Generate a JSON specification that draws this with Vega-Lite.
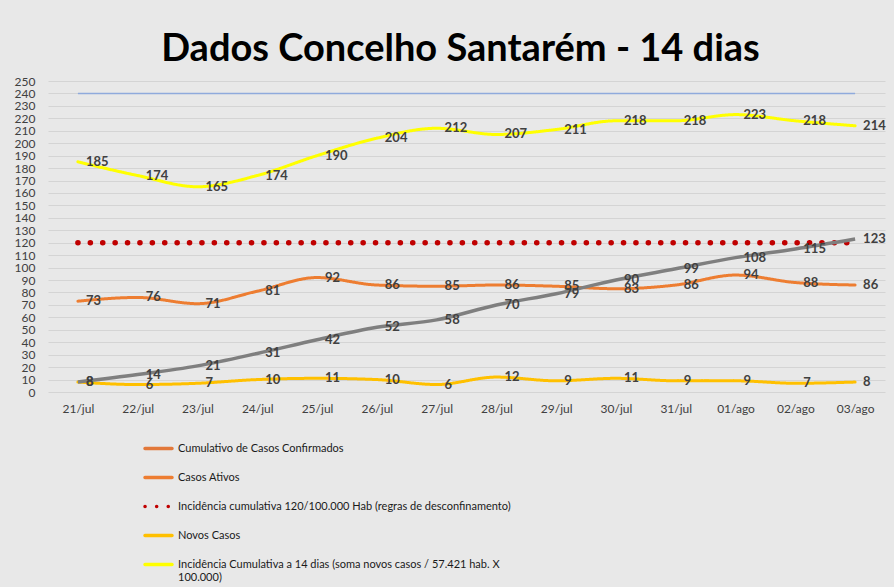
{
  "$schema": "https://vega.github.io/schema/vega-lite/v6.json",
  "width": 837,
  "height": 311,
  "autosize": {"type": "none"},
  "padding": {"left": 48, "top": 81, "right": 9, "bottom": 195},
  "background": "#e8e8e8",
  "config": {
    "font": "Lato",
    "view": {"stroke": null},
    "axis": {"labelFont": "Lato", "labelColor": "#404040"}
  },
  "title": {
    "text": "Dados Concelho Santarém - 14 dias",
    "font": "Lato",
    "fontSize": 38,
    "fontWeight": "bold",
    "color": "#000000",
    "anchor": "middle",
    "dx": -6,
    "dy": 48,
    "baseline": "alphabetic",
    "offset": 24
  },
  "datasets": {
    "series": [
      {"date": "21/jul", "serie": "Cumulativo de Casos Confirmados", "valor": 8},
      {"date": "22/jul", "serie": "Cumulativo de Casos Confirmados", "valor": 14},
      {"date": "23/jul", "serie": "Cumulativo de Casos Confirmados", "valor": 21},
      {"date": "24/jul", "serie": "Cumulativo de Casos Confirmados", "valor": 31},
      {"date": "25/jul", "serie": "Cumulativo de Casos Confirmados", "valor": 42},
      {"date": "26/jul", "serie": "Cumulativo de Casos Confirmados", "valor": 52},
      {"date": "27/jul", "serie": "Cumulativo de Casos Confirmados", "valor": 58},
      {"date": "28/jul", "serie": "Cumulativo de Casos Confirmados", "valor": 70},
      {"date": "29/jul", "serie": "Cumulativo de Casos Confirmados", "valor": 79},
      {"date": "30/jul", "serie": "Cumulativo de Casos Confirmados", "valor": 90},
      {"date": "31/jul", "serie": "Cumulativo de Casos Confirmados", "valor": 99},
      {"date": "01/ago", "serie": "Cumulativo de Casos Confirmados", "valor": 108},
      {"date": "02/ago", "serie": "Cumulativo de Casos Confirmados", "valor": 115},
      {"date": "03/ago", "serie": "Cumulativo de Casos Confirmados", "valor": 123},
      {"date": "21/jul", "serie": "Casos Ativos", "valor": 73},
      {"date": "22/jul", "serie": "Casos Ativos", "valor": 76},
      {"date": "23/jul", "serie": "Casos Ativos", "valor": 71},
      {"date": "24/jul", "serie": "Casos Ativos", "valor": 81},
      {"date": "25/jul", "serie": "Casos Ativos", "valor": 92},
      {"date": "26/jul", "serie": "Casos Ativos", "valor": 86},
      {"date": "27/jul", "serie": "Casos Ativos", "valor": 85},
      {"date": "28/jul", "serie": "Casos Ativos", "valor": 86},
      {"date": "29/jul", "serie": "Casos Ativos", "valor": 85},
      {"date": "30/jul", "serie": "Casos Ativos", "valor": 83},
      {"date": "31/jul", "serie": "Casos Ativos", "valor": 86},
      {"date": "01/ago", "serie": "Casos Ativos", "valor": 94},
      {"date": "02/ago", "serie": "Casos Ativos", "valor": 88},
      {"date": "03/ago", "serie": "Casos Ativos", "valor": 86},
      {"date": "21/jul", "serie": "Incidência cumulativa 120/100.000 Hab (regras de desconfinamento)", "valor": 120},
      {"date": "22/jul", "serie": "Incidência cumulativa 120/100.000 Hab (regras de desconfinamento)", "valor": 120},
      {"date": "23/jul", "serie": "Incidência cumulativa 120/100.000 Hab (regras de desconfinamento)", "valor": 120},
      {"date": "24/jul", "serie": "Incidência cumulativa 120/100.000 Hab (regras de desconfinamento)", "valor": 120},
      {"date": "25/jul", "serie": "Incidência cumulativa 120/100.000 Hab (regras de desconfinamento)", "valor": 120},
      {"date": "26/jul", "serie": "Incidência cumulativa 120/100.000 Hab (regras de desconfinamento)", "valor": 120},
      {"date": "27/jul", "serie": "Incidência cumulativa 120/100.000 Hab (regras de desconfinamento)", "valor": 120},
      {"date": "28/jul", "serie": "Incidência cumulativa 120/100.000 Hab (regras de desconfinamento)", "valor": 120},
      {"date": "29/jul", "serie": "Incidência cumulativa 120/100.000 Hab (regras de desconfinamento)", "valor": 120},
      {"date": "30/jul", "serie": "Incidência cumulativa 120/100.000 Hab (regras de desconfinamento)", "valor": 120},
      {"date": "31/jul", "serie": "Incidência cumulativa 120/100.000 Hab (regras de desconfinamento)", "valor": 120},
      {"date": "01/ago", "serie": "Incidência cumulativa 120/100.000 Hab (regras de desconfinamento)", "valor": 120},
      {"date": "02/ago", "serie": "Incidência cumulativa 120/100.000 Hab (regras de desconfinamento)", "valor": 120},
      {"date": "03/ago", "serie": "Incidência cumulativa 120/100.000 Hab (regras de desconfinamento)", "valor": 120},
      {"date": "21/jul", "serie": "Novos Casos", "valor": 8},
      {"date": "22/jul", "serie": "Novos Casos", "valor": 6},
      {"date": "23/jul", "serie": "Novos Casos", "valor": 7},
      {"date": "24/jul", "serie": "Novos Casos", "valor": 10},
      {"date": "25/jul", "serie": "Novos Casos", "valor": 11},
      {"date": "26/jul", "serie": "Novos Casos", "valor": 10},
      {"date": "27/jul", "serie": "Novos Casos", "valor": 6},
      {"date": "28/jul", "serie": "Novos Casos", "valor": 12},
      {"date": "29/jul", "serie": "Novos Casos", "valor": 9},
      {"date": "30/jul", "serie": "Novos Casos", "valor": 11},
      {"date": "31/jul", "serie": "Novos Casos", "valor": 9},
      {"date": "01/ago", "serie": "Novos Casos", "valor": 9},
      {"date": "02/ago", "serie": "Novos Casos", "valor": 7},
      {"date": "03/ago", "serie": "Novos Casos", "valor": 8},
      {"date": "21/jul", "serie": "Incidência Cumulativa a 14 dias (soma novos casos / 57.421 hab. X 100.000)", "valor": 185},
      {"date": "22/jul", "serie": "Incidência Cumulativa a 14 dias (soma novos casos / 57.421 hab. X 100.000)", "valor": 174},
      {"date": "23/jul", "serie": "Incidência Cumulativa a 14 dias (soma novos casos / 57.421 hab. X 100.000)", "valor": 165},
      {"date": "24/jul", "serie": "Incidência Cumulativa a 14 dias (soma novos casos / 57.421 hab. X 100.000)", "valor": 174},
      {"date": "25/jul", "serie": "Incidência Cumulativa a 14 dias (soma novos casos / 57.421 hab. X 100.000)", "valor": 190},
      {"date": "26/jul", "serie": "Incidência Cumulativa a 14 dias (soma novos casos / 57.421 hab. X 100.000)", "valor": 204},
      {"date": "27/jul", "serie": "Incidência Cumulativa a 14 dias (soma novos casos / 57.421 hab. X 100.000)", "valor": 212},
      {"date": "28/jul", "serie": "Incidência Cumulativa a 14 dias (soma novos casos / 57.421 hab. X 100.000)", "valor": 207},
      {"date": "29/jul", "serie": "Incidência Cumulativa a 14 dias (soma novos casos / 57.421 hab. X 100.000)", "valor": 211},
      {"date": "30/jul", "serie": "Incidência Cumulativa a 14 dias (soma novos casos / 57.421 hab. X 100.000)", "valor": 218},
      {"date": "31/jul", "serie": "Incidência Cumulativa a 14 dias (soma novos casos / 57.421 hab. X 100.000)", "valor": 218},
      {"date": "01/ago", "serie": "Incidência Cumulativa a 14 dias (soma novos casos / 57.421 hab. X 100.000)", "valor": 223},
      {"date": "02/ago", "serie": "Incidência Cumulativa a 14 dias (soma novos casos / 57.421 hab. X 100.000)", "valor": 218},
      {"date": "03/ago", "serie": "Incidência Cumulativa a 14 dias (soma novos casos / 57.421 hab. X 100.000)", "valor": 214},
      {"date": "21/jul", "serie": "Referência", "valor": 240},
      {"date": "22/jul", "serie": "Referência", "valor": 240},
      {"date": "23/jul", "serie": "Referência", "valor": 240},
      {"date": "24/jul", "serie": "Referência", "valor": 240},
      {"date": "25/jul", "serie": "Referência", "valor": 240},
      {"date": "26/jul", "serie": "Referência", "valor": 240},
      {"date": "27/jul", "serie": "Referência", "valor": 240},
      {"date": "28/jul", "serie": "Referência", "valor": 240},
      {"date": "29/jul", "serie": "Referência", "valor": 240},
      {"date": "30/jul", "serie": "Referência", "valor": 240},
      {"date": "31/jul", "serie": "Referência", "valor": 240},
      {"date": "01/ago", "serie": "Referência", "valor": 240},
      {"date": "02/ago", "serie": "Referência", "valor": 240},
      {"date": "03/ago", "serie": "Referência", "valor": 240}
    ]
  },
  "data": {"name": "series"},
  "encoding": {
    "x": {
      "field": "date",
      "type": "ordinal",
      "sort": null,
      "scale": {"type": "point", "padding": 0.5},
      "axis": {
        "title": null,
        "labelAngle": 0,
        "labelFontSize": 12,
        "labelPadding": 11,
        "ticks": false,
        "domain": false,
        "grid": false
      }
    },
    "y": {
      "field": "valor",
      "type": "quantitative",
      "scale": {"domain": [0, 250], "nice": false, "zero": true},
      "axis": {
        "title": null,
        "values": [0, 10, 20, 30, 40, 50, 60, 70, 80, 90, 100, 110, 120, 130, 140, 150, 160, 170, 180, 190, 200, 210, 220, 230, 240, 250],
        "labelFontSize": 12,
        "labelPadding": 13,
        "ticks": false,
        "domain": false,
        "grid": true,
        "gridColor": "#d4d4d4",
        "gridWidth": 1
      }
    }
  },
  "layer": [
    {
      "transform": [{"filter": "datum.serie === 'Referência'"}],
      "mark": {"type": "line", "color": "#8FAADC", "strokeWidth": 1.5},
      "encoding": {}
    },
    {
      "transform": [{"filter": "datum.serie === 'Casos Ativos' || datum.serie === 'Novos Casos' || indexof(datum.serie, '57.421') >= 0"}],
      "mark": {"type": "line", "interpolate": "monotone", "strokeWidth": 3, "strokeCap": "round"},
      "encoding": {
        "color": {
          "field": "serie",
          "type": "nominal",
          "scale": {
            "domain": ["Cumulativo de Casos Confirmados", "Casos Ativos", "Incidência cumulativa 120/100.000 Hab (regras de desconfinamento)", "Novos Casos", "Incidência Cumulativa a 14 dias (soma novos casos / 57.421 hab. X 100.000)"],
            "range": ["#E2783A", "#ED7D31", "#C00000", "#FFC000", "#FFFF00"]
          },
          "legend": {
            "title": null,
            "orient": "none",
            "legendX": 95,
            "legendY": 352,
            "direction": "vertical",
            "symbolType": "stroke",
            "symbolSize": 729,
            "symbolStrokeWidth": 3.5,
            "labelFontSize": 11,
            "labelColor": "#1a1a1a",
            "labelFont": "Lato",
            "labelLimit": 600,
            "labelOffset": 4,
            "rowPadding": 6,
            "labelExpr": "indexof(datum.label, '57.421') > 0 ? ['Incidência Cumulativa a 14 dias (soma novos casos / 57.421 hab. X', '100.000)'] : datum.label",
            "encode": {"symbols": {"update": {"strokeCap": {"value": "round"}}}}
          }
        },
        "strokeDash": {
          "field": "serie",
          "type": "nominal",
          "scale": {
            "domain": ["Cumulativo de Casos Confirmados", "Casos Ativos", "Incidência cumulativa 120/100.000 Hab (regras de desconfinamento)", "Novos Casos", "Incidência Cumulativa a 14 dias (soma novos casos / 57.421 hab. X 100.000)"],
            "range": [[1, 0], [1, 0], [0.1, 11.5], [1, 0], [1, 0]]
          },
          "legend": {
            "title": null,
            "orient": "none",
            "legendX": 95,
            "legendY": 352,
            "direction": "vertical",
            "symbolType": "stroke",
            "symbolSize": 729,
            "symbolStrokeWidth": 3.5,
            "labelFontSize": 11,
            "labelColor": "#1a1a1a",
            "labelFont": "Lato",
            "labelLimit": 600,
            "labelOffset": 4,
            "rowPadding": 6,
            "labelExpr": "indexof(datum.label, '57.421') > 0 ? ['Incidência Cumulativa a 14 dias (soma novos casos / 57.421 hab. X', '100.000)'] : datum.label",
            "encode": {"symbols": {"update": {"strokeCap": {"value": "round"}}}}
          }
        }
      }
    },
    {
      "transform": [{"filter": "indexof(datum.serie, '120/100.000') >= 0"}],
      "mark": {"type": "line", "color": "#C00000", "strokeWidth": 5.5, "strokeCap": "round", "strokeDash": [0.1, 12.3]},
      "encoding": {}
    },
    {
      "transform": [{"filter": "datum.serie === 'Cumulativo de Casos Confirmados'"}],
      "mark": {"type": "line", "color": "#7F7F7F", "strokeWidth": 3.5, "interpolate": "monotone"},
      "encoding": {}
    },
    {
      "transform": [{"filter": "datum.serie !== 'Referência' && indexof(datum.serie, '120/100.000') < 0"}],
      "mark": {"type": "text", "align": "left", "baseline": "middle", "dx": 8, "fontSize": 13, "fontWeight": "bold", "color": "#404040", "font": "Lato"},
      "encoding": {"text": {"field": "valor", "type": "quantitative"}}
    }
  ]
}
